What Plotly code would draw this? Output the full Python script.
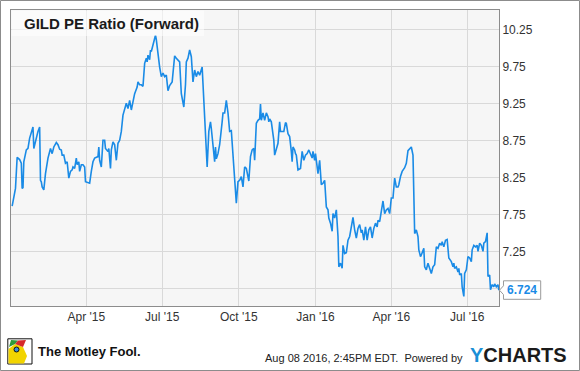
import plotly.graph_objects as go

# ---- data ----
dates_2015 = [
    "2015-01-02", "2015-01-04", "2015-01-06", "2015-01-08", "2015-01-11", "2015-01-13", "2015-01-14",
    "2015-01-15", "2015-01-16", "2015-01-19", "2015-01-21", "2015-01-23", "2015-01-26", "2015-01-27",
    "2015-01-28", "2015-01-30", "2015-02-02", "2015-02-04", "2015-02-05", "2015-02-06", "2015-02-07",
    "2015-02-09", "2015-02-11", "2015-02-14", "2015-02-17", "2015-02-19", "2015-02-21", "2015-02-24",
    "2015-02-26", "2015-02-28", "2015-03-02", "2015-03-03", "2015-03-05", "2015-03-07", "2015-03-09",
    "2015-03-11", "2015-03-13", "2015-03-15", "2015-03-16", "2015-03-18", "2015-03-20", "2015-03-21",
    "2015-03-23", "2015-03-24", "2015-03-26", "2015-03-28", "2015-03-30", "2015-03-31", "2015-04-02",
    "2015-04-05", "2015-04-07", "2015-04-09", "2015-04-11", "2015-04-15", "2015-04-16", "2015-04-17",
    "2015-04-19", "2015-04-21", "2015-04-23", "2015-04-24", "2015-04-27", "2015-04-28", "2015-04-30",
    "2015-05-01", "2015-05-03", "2015-05-05", "2015-05-07", "2015-05-09", "2015-05-11", "2015-05-13",
    "2015-05-15", "2015-05-17", "2015-05-19", "2015-05-21", "2015-05-23", "2015-05-25", "2015-05-27",
    "2015-05-29", "2015-05-30", "2015-06-01", "2015-06-02", "2015-06-04", "2015-06-06", "2015-06-08",
    "2015-06-10", "2015-06-12", "2015-06-13", "2015-06-14", "2015-06-16", "2015-06-17", "2015-06-18",
    "2015-06-20", "2015-06-22", "2015-06-23", "2015-06-24", "2015-06-26", "2015-06-28", "2015-06-30",
    "2015-07-02", "2015-07-04", "2015-07-06", "2015-07-08", "2015-07-10", "2015-07-13", "2015-07-15",
    "2015-07-16", "2015-07-18", "2015-07-20", "2015-07-22", "2015-07-24", "2015-07-27", "2015-07-29",
    "2015-07-30", "2015-08-01", "2015-08-03", "2015-08-05", "2015-08-07", "2015-08-09", "2015-08-11",
    "2015-08-13", "2015-08-15", "2015-08-18", "2015-08-21", "2015-08-22", "2015-08-24", "2015-08-26",
    "2015-08-28", "2015-08-29", "2015-08-31", "2015-09-02", "2015-09-03", "2015-09-04", "2015-09-06",
    "2015-09-08", "2015-09-11", "2015-09-12", "2015-09-14", "2015-09-16", "2015-09-18", "2015-09-20",
    "2015-09-22", "2015-09-24", "2015-09-26", "2015-09-28", "2015-09-30", "2015-10-02", "2015-10-04",
    "2015-10-06", "2015-10-08", "2015-10-10", "2015-10-13", "2015-10-15", "2015-10-17", "2015-10-19",
    "2015-10-20", "2015-10-22", "2015-10-24", "2015-10-26", "2015-10-27", "2015-10-28", "2015-10-30",
    "2015-11-01", "2015-11-03", "2015-11-05", "2015-11-06", "2015-11-07", "2015-11-09", "2015-11-12",
    "2015-11-13", "2015-11-15", "2015-11-17", "2015-11-19", "2015-11-20", "2015-11-22", "2015-11-24",
    "2015-11-26", "2015-11-27", "2015-11-29", "2015-12-01", "2015-12-03", "2015-12-04", "2015-12-05",
    "2015-12-07", "2015-12-08", "2015-12-09", "2015-12-11", "2015-12-13", "2015-12-14", "2015-12-16",
    "2015-12-18", "2015-12-20", "2015-12-22", "2015-12-24", "2015-12-26", "2015-12-28", "2015-12-29",
    "2015-12-31",
]
pe_2015 = [
    7.86, 7.98, 8.10, 8.52, 8.49, 8.44, 8.10,
    8.11, 8.46, 8.62, 8.64, 8.78, 8.91, 8.93,
    8.64, 8.75, 8.87, 8.93, 8.21, 8.19, 8.12,
    8.08, 8.30, 8.51, 8.64, 8.57, 8.66, 8.72,
    8.69, 8.63, 8.62, 8.55, 8.55, 8.44, 8.46,
    8.24, 8.33, 8.35, 8.39, 8.37, 8.51, 8.42,
    8.46, 8.33, 8.42, 8.42, 8.39, 8.19, 8.18,
    8.17, 8.33, 8.46, 8.51, 8.53, 8.66, 8.48,
    8.39, 8.75, 8.75, 8.64, 8.60, 8.64, 8.37,
    8.62, 8.73, 8.69, 8.48, 8.71, 8.75, 8.87,
    9.09, 9.19, 9.25, 9.18, 9.29, 9.16, 9.29,
    9.38, 9.41, 9.47, 9.54, 9.50, 9.50, 9.48,
    9.79, 9.86, 9.81, 9.90, 9.84, 9.97, 9.95,
    10.04, 10.11, 10.17, 10.11, 9.90, 9.74, 9.61,
    9.66, 9.61, 9.63, 9.42, 9.49, 9.54, 9.77,
    9.89, 9.86, 9.84, 9.81, 9.38, 9.20, 9.50,
    9.81, 9.86, 9.97, 9.88, 9.54, 9.70, 9.61,
    9.68, 9.63, 9.74, 9.05, 8.69, 8.39, 8.87,
    9.00, 8.91, 8.69, 8.46, 8.66, 8.50, 8.57,
    8.69, 9.00, 9.12, 9.12, 9.29, 9.12, 8.87,
    8.88, 8.55, 8.24, 7.90, 8.19, 8.21, 8.26,
    8.12, 8.39, 8.37, 8.20, 8.53, 8.62, 8.64,
    8.48, 8.98, 9.02, 9.04, 9.24, 9.02, 9.12,
    9.02, 9.12, 9.07, 9.00, 9.04, 9.00, 8.75,
    8.55, 8.62, 8.71, 9.00, 8.87, 8.87, 8.87,
    8.99, 8.98, 8.84, 8.80, 8.60, 8.46, 8.66,
    8.62, 8.57, 8.55, 8.35, 8.37, 8.37, 8.60,
    8.48, 8.55, 8.57, 8.62, 8.57, 8.51, 8.60,
    8.48,
]
dates_2016 = [
    "2016-01-01", "2016-01-03", "2016-01-04", "2016-01-06", "2016-01-08", "2016-01-10", "2016-01-12",
    "2016-01-14", "2016-01-16", "2016-01-17", "2016-01-19", "2016-01-21", "2016-01-22", "2016-01-24",
    "2016-01-26", "2016-01-28", "2016-01-29", "2016-01-31", "2016-02-02", "2016-02-03", "2016-02-05",
    "2016-02-07", "2016-02-09", "2016-02-11", "2016-02-13", "2016-02-15", "2016-02-17", "2016-02-19",
    "2016-02-21", "2016-02-23", "2016-02-25", "2016-02-26", "2016-02-28", "2016-03-01", "2016-03-03",
    "2016-03-05", "2016-03-07", "2016-03-09", "2016-03-11", "2016-03-13", "2016-03-15", "2016-03-16",
    "2016-03-18", "2016-03-20", "2016-03-22", "2016-03-24", "2016-03-26", "2016-03-28", "2016-03-30",
    "2016-04-01", "2016-04-03", "2016-04-05", "2016-04-07", "2016-04-09", "2016-04-10", "2016-04-12",
    "2016-04-14", "2016-04-17", "2016-04-19", "2016-04-21", "2016-04-23", "2016-04-25", "2016-04-27",
    "2016-04-28", "2016-04-29", "2016-05-01", "2016-05-03", "2016-05-04", "2016-05-06", "2016-05-07",
    "2016-05-09", "2016-05-10", "2016-05-11", "2016-05-13", "2016-05-15", "2016-05-17", "2016-05-19",
    "2016-05-21", "2016-05-23", "2016-05-25", "2016-05-27", "2016-05-29", "2016-05-31", "2016-06-01",
    "2016-06-03", "2016-06-05", "2016-06-07", "2016-06-09", "2016-06-12", "2016-06-14", "2016-06-15",
    "2016-06-16", "2016-06-18", "2016-06-20", "2016-06-21", "2016-06-22", "2016-06-24", "2016-06-25",
    "2016-06-27", "2016-06-28", "2016-06-30", "2016-07-02", "2016-07-04", "2016-07-06", "2016-07-07",
    "2016-07-09", "2016-07-11", "2016-07-13", "2016-07-14", "2016-07-16", "2016-07-18", "2016-07-20",
    "2016-07-21", "2016-07-23", "2016-07-25", "2016-07-26", "2016-07-28", "2016-07-29", "2016-07-31",
    "2016-08-02", "2016-08-03", "2016-08-05", "2016-08-07", "2016-08-08",
]
pe_2016 = [
    8.57, 8.39, 8.30, 8.48, 8.15, 8.17, 8.21,
    7.85, 7.81, 7.70, 7.63, 7.52, 7.76, 7.70,
    7.81, 7.45, 7.04, 7.09, 7.02, 7.33, 7.22,
    7.23, 7.40, 7.45, 7.58, 7.71, 7.54, 7.43,
    7.56, 7.61, 7.50, 7.54, 7.40, 7.58, 7.40,
    7.54, 7.58, 7.43, 7.56, 7.63, 7.58, 7.67,
    7.65, 7.79, 7.93, 7.76, 7.81, 7.83, 7.76,
    7.97, 7.97, 8.24, 8.12, 8.12, 8.15, 8.26,
    8.33, 8.38, 8.44, 8.61, 8.64, 8.66, 8.55,
    8.08, 7.49, 7.54, 7.45, 7.27, 7.18, 7.20,
    7.25, 7.29, 7.04, 7.00, 7.09, 7.02, 6.95,
    7.04, 7.07, 7.31, 7.29, 7.36, 7.33, 7.38,
    7.31, 7.40, 7.41, 7.16, 7.11, 7.04, 7.09,
    7.02, 7.04, 6.97, 7.02, 6.93, 6.95, 6.77,
    6.64, 6.95, 7.00, 7.18, 7.16, 7.11, 7.27,
    7.33, 7.31, 7.33, 7.25, 7.36, 7.33, 7.25,
    7.36, 7.38, 7.50, 6.91, 6.93, 6.73, 6.80,
    6.77, 6.81, 6.77, 6.80, 6.724,
]
x_tick_dates = ["2015-04-01", "2015-07-01", "2015-10-01", "2016-01-01", "2016-04-01", "2016-07-01"]
x_tick_labels = ["Apr '15", "Jul '15", "Oct '15", "Jan '16", "Apr '16", "Jul '16"]
y_tick_values = [6.75, 7.25, 7.75, 8.25, 8.75, 9.25, 9.75, 10.25]
y_tick_labels = ["", "7.25", "7.75", "8.25", "8.75", "9.25", "9.75", "10.25"]
last_value = 6.724

dates = dates_2015 + dates_2016
values = pe_2015 + pe_2016

LINE = "#1a8be6"
FONT = "Liberation Sans, Arial, sans-serif"

# plot area geometry in pixels (for decorations placed in paper coords)
W, H = 580, 371
L, T, R, B = 11, 10, 81, 65
PW, PH = W - L - R, H - T - B


def px(x):
    return (x - L) / PW


def py(y):
    return (H - B - y) / PH


fig = go.Figure()
fig.add_trace(go.Scatter(
    x=dates, y=values, mode="lines",
    line=dict(color=LINE, width=1.6),
    hoverinfo="skip", showlegend=False,
))

shapes = []
# outer frame
shapes.append(dict(type="rect", xref="paper", yref="paper",
                   x0=px(0.5), x1=px(W - 0.5), y0=py(H - 0.5), y1=py(0.5),
                   line=dict(color="#8c8c8c", width=1), fillcolor="rgba(0,0,0,0)", layer="above"))
# title backdrop
shapes.append(dict(type="rect", xref="paper", yref="paper",
                   x0=px(11.5), x1=px(204), y0=py(36), y1=py(10.5),
                   line=dict(width=0), fillcolor="rgba(255,255,255,0.55)", layer="above"))
# last value callout box with pointer
pts = [(499.5, 290.2), (503.5, 285.8), (503.5, 280.8), (540.7, 280.8),
       (540.7, 299.3), (503.5, 299.3), (503.5, 294.6)]
path = "M " + " L ".join(f"{px(a):.5f},{py(b):.5f}" for a, b in pts) + " Z"
shapes.append(dict(type="path", xref="paper", yref="paper", path=path,
                   line=dict(color="#9a9a9a", width=1), fillcolor="white", layer="above"))
# Motley Fool jester icon (simplified)
shapes.append(dict(type="rect", xref="paper", yref="paper",
                   x0=px(7.8), x1=px(32), y0=py(364), y1=py(338.8),
                   line=dict(color="#111", width=1), fillcolor="#ffffff", layer="above"))
shapes.append(dict(type="path", xref="paper", yref="paper",
                   path=(f"M {px(8.5)},{py(363.5)} L {px(8.5)},{py(349)} L {px(15)},{py(344)} "
                         f"L {px(23)},{py(347)} L {px(27)},{py(356)} L {px(24)},{py(363.5)} Z"),
                   line=dict(width=0), fillcolor="#f2d400", layer="above"))
shapes.append(dict(type="path", xref="paper", yref="paper",
                   path=(f"M {px(9)},{py(347)} L {px(11)},{py(340)} L {px(18)},{py(340.5)} "
                         f"L {px(15)},{py(344)} Z"),
                   line=dict(width=0), fillcolor="#2e9b3a", layer="above"))
shapes.append(dict(type="path", xref="paper", yref="paper",
                   path=(f"M {px(15)},{py(344)} L {px(18)},{py(340.5)} L {px(26)},{py(340)} "
                         f"L {px(23)},{py(347)} Z"),
                   line=dict(width=0), fillcolor="#d62a2a", layer="above"))
shapes.append(dict(type="circle", xref="paper", yref="paper",
                   x0=px(14), x1=px(19), y0=py(352), y1=py(347),
                   line=dict(color="#111", width=1), fillcolor="#3a8fd8", layer="above"))

annotations = [
    dict(text="<b>GILD PE Ratio (Forward)</b>", xref="paper", yref="paper",
         x=px(22), y=py(24), xanchor="left", yanchor="middle", showarrow=False,
         font=dict(family=FONT, size=15, color="#1a1a1a")),
    dict(text=f"<b>{last_value:.3f}</b>", xref="paper", yref="y",
         x=px(522.1), y=last_value, xanchor="center", yanchor="middle", showarrow=False,
         font=dict(family=FONT, size=12, color=LINE)),
    dict(text="Aug 08 2016, 2:45PM EDT.  Powered by", xref="paper", yref="paper",
         x=px(464.5), y=py(357.8), xanchor="right", yanchor="middle", showarrow=False,
         font=dict(family=FONT, size=11, color="#222")),
    dict(text="<b><span style='color:#1a8fd6'>Y</span>CHARTS</b>", xref="paper", yref="paper",
         x=px(518.3), y=py(355), xanchor="center", yanchor="middle", showarrow=False,
         font=dict(family=FONT, size=20, color="#1b1b1b")),
    dict(text="<b>The Motley Fool.</b>", xref="paper", yref="paper",
         x=px(35.5), y=py(351.7), xanchor="left", yanchor="middle", showarrow=False,
         font=dict(family="Liberation Sans Narrow, Liberation Sans, Arial, sans-serif",
                   size=13, color="#111")),
]

fig.update_layout(
    width=W, height=H,
    margin=dict(l=L, r=R, t=T, b=B, pad=0),
    paper_bgcolor="white",
    plot_bgcolor="#f6f6f6",
    showlegend=False,
    hovermode=False,
    shapes=shapes,
    annotations=annotations,
    xaxis=dict(
        type="date",
        range=["2014-12-31 15:00", "2016-08-08 05:00"],
        tickmode="array", tickvals=x_tick_dates, ticktext=x_tick_labels,
        showgrid=True, gridcolor="#d9d9d9", gridwidth=1,
        showline=True, linecolor="#8c8c8c", linewidth=1, mirror=True,
        ticks="", zeroline=False,
        tickfont=dict(family=FONT, size=12, color="#333"),
        fixedrange=True,
    ),
    yaxis=dict(
        side="right",
        range=[6.511, 10.511],
        tickmode="array", tickvals=y_tick_values, ticktext=y_tick_labels,
        showgrid=True, gridcolor="#d9d9d9", gridwidth=1,
        showline=True, linecolor="#8c8c8c", linewidth=1, mirror=True,
        ticks="", zeroline=False,
        tickfont=dict(family=FONT, size=12, color="#333"),
        fixedrange=True,
    ),
)

fig.write_html(
    "out.html",
    config={"displayModeBar": False},
    post_script="document.body.style.margin='0';document.body.style.overflow='hidden';",
)
